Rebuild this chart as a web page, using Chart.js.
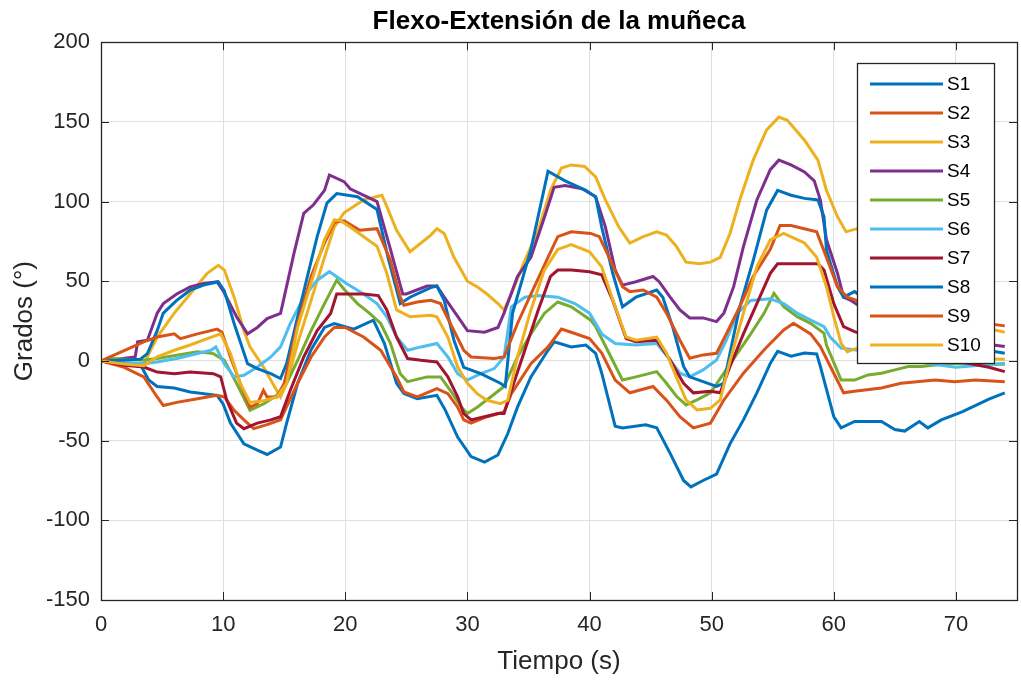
<!DOCTYPE html>
<html>
<head>
<meta charset="utf-8">
<script src="https://cdn.jsdelivr.net/npm/chart.js@4/dist/chart.umd.min.js"></script>
<style>
  body { margin: 0; background: #fff; }
  #wrap { width: 1021px; height: 687px; }
</style>
</head>
<body>
<div id="wrap"><canvas id="wrist"></canvas></div>
<script>

// sampled angle curves, time (s) and angle (deg) per subject
const tS1 = [0, 3.2, 3.9, 4.6, 6, 7.3, 9.5, 10, 10.6, 11.7, 12.8, 13.6, 14.7, 15.2, 16.1, 17.2, 18.3, 19.1, 20.7, 22.3, 23.2, 24.2, 24.8, 25.9, 27.5, 28.2, 29.2, 30.3, 31.4, 32.5, 33.3, 34.1, 35.2, 36.6, 37.1, 38.5, 39.7, 40.5, 41, 42.1, 42.7, 44.6, 45.5, 46.6, 47.7, 48.3, 49.3, 50.4, 51.5, 52.6, 53.7, 54.8, 55.4, 56.5, 57.6, 58.6, 58.9, 60, 60.6, 61.7, 63.9, 65, 65.8, 66.6, 67, 67.7, 68.8, 70.5, 72.7, 74];
const vS1 = [0, -2, -12, -16, -17, -19.5, -21.6, -27, -39, -52, -56, -58.7, -54, -39, -14, 7, 21, 23.5, 20, 25.6, 11, -14, -20.5, -23.7, -21.6, -31, -47.8, -60, -63.5, -59, -45.7, -29, -10, 6.7, 12, 8.8, 10, 4.8, -7.7, -41, -42, -40, -42, -58, -75, -79, -75, -71, -52, -37, -20, -1.5, 6, 3, 5, 4.4, -3.5, -35, -42, -38, -38, -43, -44, -40, -38, -42, -37, -32, -24, -20];

const tS2 = [0, 1.9, 3.5, 4.6, 5.1, 6.2, 7.9, 9.5, 10.1, 10.9, 11.7, 12.5, 13.6, 14.7, 16.1, 17.2, 18.3, 19.1, 20, 21.5, 22.9, 24.2, 24.8, 25.9, 27.5, 28.4, 29.2, 29.7, 30.3, 31.6, 33, 33.6, 35.2, 36.6, 37.7, 38.5, 40, 41, 42.1, 43.3, 45.2, 46.3, 47.4, 48.5, 49.9, 51, 52.6, 54.3, 55.9, 56.7, 58.1, 58.9, 60, 60.8, 61.7, 63.9, 65.5, 68.3, 69.9, 71.6, 74];
const vS2 = [0, -4, -10, -22.6, -28, -26, -23.7, -21.6, -22.6, -31, -37, -42.5, -40, -37, -14, 2.5, 15, 21, 21, 15, 6.7, -10, -19.5, -22.6, -17.4, -20.5, -29, -37, -39, -35, -32, -20.5, -1.7, 8.8, 20, 18, 14, 5, -12, -20, -16, -24.6, -35, -42, -39, -24.5, -7.7, 7, 19.4, 23.6, 17, 9, -7.7, -20, -19, -17, -14, -12, -13, -12, -13];

const tS3 = [0, 3.5, 4.6, 6, 7.3, 8.7, 9.6, 10.1, 10.9, 11.7, 12.2, 13.3, 14.2, 14.7, 15.2, 16.1, 17.2, 18.3, 19.1, 19.9, 21.5, 23, 23.4, 24.2, 25.3, 26.2, 27, 27.5, 28.1, 28.9, 30, 30.8, 31.6, 32.5, 33, 33.6, 34.7, 35.8, 36.8, 37.7, 38.5, 39.6, 40.5, 41.3, 42.4, 43.3, 44.4, 45.5, 46.3, 47.1, 47.9, 49, 49.9, 50.7, 51.5, 52.3, 53.4, 54.5, 55.5, 56.2, 57.6, 58.7, 59.4, 60.3, 61, 61.9, 63, 66, 70, 74];
const vS3 = [0, -2, 15, 30, 42, 55, 60, 57, 40, 19, 8.8, -3.8, -16, -22.6, -14, 11, 38, 65, 84, 93, 101, 104, 97, 82, 68.5, 74, 79, 83, 80, 65, 50, 46.5, 42, 36, 32, 42, 63, 82, 107, 121, 123, 122, 115.5, 101, 84, 74, 78, 81, 79, 72, 62, 61, 62, 65, 80, 101, 126, 145, 153, 151, 138.5, 126, 107, 90.5, 81, 83, 70, 45, 25, 18];

const tS4 = [0, 2.8, 3, 3.8, 4.6, 5.1, 6.2, 7.3, 8.4, 9.5, 10, 11.1, 12, 12.8, 13.6, 14.7, 15, 15.8, 16.6, 17.4, 18.3, 18.7, 19.9, 20.4, 22.6, 23.7, 24.7, 25, 26.7, 27.5, 28.1, 29.2, 30, 31.4, 32.5, 33, 34.1, 35.2, 36.3, 37.1, 38, 39.4, 40.5, 41.3, 42.1, 42.7, 43.8, 45.2, 45.7, 46.6, 47.4, 48.2, 49.3, 50.4, 51, 51.8, 52.6, 53.7, 54.8, 55.5, 56.5, 57.6, 58.4, 58.9, 59.4, 60.3, 60.8, 61.4, 64, 68, 74];
const vS4 = [0, 2.5, 12, 13, 30, 36, 42, 46.5, 48.6, 49.7, 44, 27.7, 17, 21, 26.6, 29.8, 40, 67.5, 92.6, 98, 107, 116.7, 112.5, 108, 100, 70, 42, 42, 47, 47, 40, 28, 19, 18, 21, 30, 53, 65, 90, 109, 110, 108, 103, 84, 57, 47.6, 49.7, 53, 49.7, 40, 32, 27, 27, 24.7, 30, 46.6, 71.7, 101, 120, 126, 123, 118.6, 113, 101, 76, 55, 40, 38, 25, 15, 9];

const tS5 = [0, 0.8, 3.5, 4.6, 6.2, 7.9, 9.2, 10.1, 11.1, 12.2, 13.3, 14.4, 15.2, 16.1, 17.2, 18.3, 19.3, 19.9, 21, 22, 22.9, 23.7, 24.5, 25.1, 26.7, 27.8, 28.6, 29.5, 30, 30.8, 31.9, 33, 34.1, 35.2, 36.3, 37.4, 38.5, 40.1, 40.5, 41.6, 42.7, 43.8, 45.5, 46.3, 47.1, 47.9, 48.8, 49.9, 51, 52.1, 53.2, 54.3, 55.1, 55.9, 57, 58.1, 59.2, 59.4, 60.6, 61.7, 62.8, 63.9, 65, 66.1, 67.2, 68.3, 69.6, 72, 74];
const vS5 = [0, 1.5, 0.4, 1.5, 3.6, 5.7, 4.6, 0.4, -14, -31, -27, -21.6, -14, 0.4, 19, 36, 50.7, 45, 36, 29.8, 23.5, 11, -8, -13, -10, -10, -18.4, -29, -33, -29, -22.6, -16, 2.5, 17, 29.8, 37, 34, 25.6, 21.5, 4.8, -12, -10, -6.7, -14, -22, -27.6, -24.4, -20, -7.7, 4.8, 17, 30, 42.4, 34, 27.8, 23.6, 17.3, 10, -12, -12, -8.8, -7.7, -5.6, -3.5, -3.5, -2.5, -1.5, -2, -2];

const tS6 = [0, 3.5, 4.6, 6.2, 7.3, 9, 9.4, 10.1, 10.9, 11.7, 12.8, 13.9, 14.7, 15.5, 16.6, 17.7, 18.7, 19.3, 20.1, 21.5, 22.6, 23.4, 24.2, 25.1, 26.2, 27.5, 28.4, 29.2, 30, 31.1, 32.2, 33, 33.6, 34.7, 35.8, 37.4, 38.8, 40, 41, 42.1, 43.8, 45.5, 46.6, 47.4, 48.2, 49.3, 50.4, 51.2, 52.1, 53.2, 54.8, 55.9, 57, 58.1, 59.2, 59.7, 60.6, 61.7, 65, 68, 70, 74];
const vS6 = [0, -1.7, -0.6, 1.5, 3.6, 6.7, 8.8, -1.7, -10, -9, -3.8, 2.5, 8.8, 23.5, 40, 50.7, 56, 52.8, 48.6, 42, 36, 27.7, 15, 6.7, 8.8, 11, 2.5, -8, -12, -8, -4.8, 2.5, 34, 40, 41, 40, 36, 30, 17, 11, 10, 11, 0.6, -7.7, -10, -5.6, 0.6, 13, 30, 38, 39, 36, 30, 25.7, 21.5, 15, 8, 7, 3, -2, -4, -1.5];

const tS7 = [0, 1.9, 3.5, 4.6, 6, 7.3, 9.2, 9.8, 10.3, 11.1, 11.7, 12.8, 13.9, 14.7, 15.5, 16.6, 17.7, 18.8, 19.3, 20.4, 21.5, 22.7, 23.4, 24.2, 25.1, 26.2, 27.5, 28.4, 29.2, 29.7, 30.3, 31.4, 32.5, 33, 33.6, 34.7, 35.8, 36.8, 37.4, 38.5, 40, 41, 41.9, 43, 43.8, 45.5, 46.6, 47.7, 48.5, 49.9, 50.7, 51.5, 52.6, 53.7, 54.8, 55.4, 56.5, 57.6, 58.7, 59.2, 60, 60.8, 61.7, 66, 70, 72.7, 74];
const vS7 = [0, -2.7, -3.8, -7, -8, -7, -8, -10, -24.7, -39, -42.5, -39, -37, -35, -18.4, 2.5, 19, 29.8, 42, 42, 42, 41, 32, 15, 1.5, 0.4, -0.6, -10, -22.6, -33, -37, -35, -33, -33, -18.4, 6.7, 32, 53, 57, 57, 56, 54, 38, 14, 12, 13, 0.6, -14, -20, -19, -20, -3.5, 17, 36, 55, 61, 61, 61, 61, 57, 36, 21.5, 18.4, 8, 0, -4, -6.7];

const tS8 = [0, 3.2, 3.8, 4.6, 5.1, 6.2, 7.3, 8.4, 9.6, 10.1, 10.9, 12, 12.8, 13.9, 14.7, 15.2, 16.1, 16.9, 17.7, 18.5, 19.3, 21, 22.6, 23.5, 24.5, 25.3, 27, 27.5, 28.1, 28.9, 29.7, 31.1, 32.7, 33.1, 33.7, 35.2, 36.2, 36.6, 38, 39.7, 40.5, 41, 41.9, 42.7, 43.8, 45.5, 46, 46.8, 47.7, 48.2, 49.3, 50.4, 51, 51.5, 52.3, 53.4, 54.5, 55.4, 56.5, 57.6, 58.7, 59.2, 59.4, 60.3, 60.8, 61.7, 65, 70, 74];
const vS8 = [0, 1, 4.6, 19, 30, 38, 44.4, 47.6, 49.7, 44, 23.5, -1.7, -4.8, -8, -11, -1.7, 27.7, 53, 78, 99, 105, 103, 95, 65, 36, 40, 46, 47, 38, 13, -4, -8, -14, -16, 30, 70, 105, 119, 113, 107, 103, 84, 55, 34, 40, 44.5, 40, 21.5, -3.5, -10, -13, -16, -14, 4.8, 34, 63, 94.6, 107, 104, 102, 101, 90.5, 69.6, 46.6, 40, 43.5, 25, 10, 4.8];

const tS9 = [0, 3.5, 4.6, 6, 6.5, 7.9, 9.5, 9.9, 10.6, 11.4, 12.2, 12.8, 13.3, 13.6, 14.4, 15, 16.1, 17.2, 18.3, 19.1, 19.9, 21.2, 22.6, 23.7, 24.5, 24.8, 25.9, 27, 27.8, 28.6, 29.7, 30.3, 32.2, 33, 34.1, 35.2, 36.6, 37.4, 38.5, 40.1, 40.8, 41.6, 42.7, 43.3, 44.4, 45.5, 46.3, 47.4, 48.2, 49.3, 50.4, 51.2, 52.3, 53.4, 54.8, 55.6, 56.5, 58.6, 59.4, 60.3, 61.1, 63, 66, 70, 74];
const vS9 = [0, 12, 15, 17, 14, 17, 20, 18, 2.5, -14, -29, -27, -18.4, -22.6, -22.6, -14, 23.5, 53, 74, 87, 88, 82, 83, 63, 40, 35, 37, 38, 36, 23.5, 6.7, 2.5, 1.5, 2.5, 23.5, 42, 65, 78, 81, 80, 78, 65, 46.6, 43.5, 44.5, 40, 30, 13, 1.7, 3.8, 4.8, 17, 34, 53, 70, 85, 85, 81, 65, 46.6, 40, 35, 30, 26, 22];

const tS10 = [0, 1.9, 3.5, 4.6, 6, 7.3, 8.7, 9.8, 10.6, 11.4, 12.2, 13.3, 14.4, 15.2, 16.1, 17.2, 18.3, 19.1, 19.6, 20.4, 22.6, 23.4, 24.2, 25.3, 27, 27.5, 28.4, 29.2, 30, 30.8, 31.6, 32.7, 33.3, 34.1, 35.2, 36.3, 37.4, 38.5, 40, 41, 42.1, 43, 43.8, 45.5, 46.3, 47.1, 47.9, 48.8, 49.9, 50.7, 51.5, 52.6, 53.7, 54.8, 55.9, 57.6, 58.6, 59.4, 60, 60.6, 61.1, 61.9, 66, 70, 74];
const vS10 = [0, -2, -3, 2.5, 6.7, 10, 14, 17, 4.6, -14, -26, -25, -22.6, -14, 21, 49, 76, 88.5, 88, 84, 72, 55, 32, 27.7, 28.7, 27.7, 15, -3.8, -14, -20.5, -24.7, -26.8, -24.7, 2.5, 32, 57, 70, 73, 68.5, 59, 34, 15, 13, 15, 4.8, -10, -24.4, -30.7, -29.7, -24.4, 0, 30, 59, 76, 80, 74, 65, 46.6, 27.8, 11, 5.8, 8, 5, 2, 1];

const names = ["S1", "S2", "S3", "S4", "S5", "S6", "S7", "S8", "S9", "S10"];
const times = [tS1, tS2, tS3, tS4, tS5, tS6, tS7, tS8, tS9, tS10];
const angles = [vS1, vS2, vS3, vS4, vS5, vS6, vS7, vS8, vS9, vS10];
const xTicks = [0, 10, 20, 30, 40, 50, 60, 70];
const yTicks = [-150, -100, -50, 0, 50, 100, 150, 200];

// matlab default line colour order
const palette = ["#0072BD", "#D95319", "#EDB120", "#7E2F8E", "#77AC30", "#4DBEEE", "#A2142F"];
const axisGray = "#262626";
const fontFam = "'Liberation Sans', Arial, sans-serif";

const datasets = names.map((name, i) => ({
    label: name,
    data: times[i].map((t, k) => ({x: t, y: angles[i][k]})),
    borderColor: palette[i % palette.length],
    borderWidth: 3,
    pointRadius: 0,
    tension: 0,
    fill: false,
    order: names.length - i
}));

// box around the axes with inward tick marks on all four sides
const axesBox = {
    id: "axesBox",
    afterDatasetsDraw(chart){
        const {ctx, chartArea: a, scales} = chart;
        ctx.save();
        ctx.strokeStyle = axisGray;
        ctx.lineWidth = 1;
        ctx.beginPath();
        xTicks.forEach(v => {
            const px = Math.round(scales.x.getPixelForValue(v)) + 0.5;
            ctx.moveTo(px, a.bottom); ctx.lineTo(px, a.bottom - 8);
            ctx.moveTo(px, a.top); ctx.lineTo(px, a.top + 8);
        });
        yTicks.forEach(v => {
            const py = Math.round(scales.y.getPixelForValue(v)) + 0.5;
            ctx.moveTo(a.left, py); ctx.lineTo(a.left + 8, py);
            ctx.moveTo(a.right, py); ctx.lineTo(a.right - 8, py);
        });
        ctx.stroke();
        ctx.lineWidth = 1.3;
        ctx.strokeRect(Math.round(a.left) + 0.5, Math.round(a.top) + 0.5,
            Math.round(a.right - a.left), Math.round(a.bottom - a.top));
        ctx.restore();
    }
};

// legend drawn inside the plot, top right
const insideLegend = {
    id: "insideLegend",
    afterDatasetsDraw(chart){
        const {ctx} = chart;
        const box = {x: 857.5, y: 63.5, w: 137, h: 300};
        ctx.save();
        ctx.fillStyle = "#fff";
        ctx.fillRect(box.x, box.y, box.w, box.h);
        ctx.strokeStyle = axisGray;
        ctx.lineWidth = 1.3;
        ctx.strokeRect(box.x, box.y, box.w, box.h);
        ctx.font = "19px " + fontFam;
        ctx.textBaseline = "middle";
        ctx.fillStyle = "#000";
        chart.data.datasets.forEach((ds, i) => {
            const y = 84 + i * 29;
            ctx.strokeStyle = ds.borderColor;
            ctx.lineWidth = 3;
            ctx.beginPath();
            ctx.moveTo(870, y);
            ctx.lineTo(943, y);
            ctx.stroke();
            ctx.fillText(ds.label, 947, y + 1);
        });
        ctx.restore();
    }
};

new Chart(
    document.getElementById("wrist"),
    {
        type: "line",
        data: { datasets: datasets },
        options: {
            responsive: true,
            maintainAspectRatio: false,
            animation: false,
            events: [],
            layout: { padding: { left: 0, right: 4, top: 0, bottom: 0 } },
            plugins: {
                legend: { display: false },
                tooltip: { enabled: false },
                title: {
                    display: true,
                    fullSize: false,
                    text: "Flexo-Extensión de la muñeca",
                    color: "#000",
                    font: { family: fontFam, size: 26, weight: "bold" },
                    padding: { top: 6, bottom: 5 }
                }
            },
            scales: {
                x: {
                    type: "linear",
                    min: 0,
                    max: 75,
                    afterFit(s){ s.height = 87; },
                    afterBuildTicks(s){ s.ticks = xTicks.map(v => ({value: v})); },
                    grid: { color: "#dfdfdf", lineWidth: 1, drawTicks: false },
                    border: { display: false },
                    ticks: {
                        color: axisGray,
                        padding: 12,
                        font: { family: fontFam, size: 22 }
                    },
                    title: {
                        display: true,
                        text: "Tiempo (s)",
                        color: axisGray,
                        font: { family: fontFam, size: 26 },
                        padding: { bottom: 10 }
                    }
                },
                y: {
                    type: "linear",
                    min: -150,
                    max: 200,
                    afterFit(s){ s.width = 101; },
                    afterBuildTicks(s){ s.ticks = yTicks.map(v => ({value: v})); },
                    grid: { color: "#dfdfdf", lineWidth: 1, drawTicks: false },
                    border: { display: false },
                    ticks: {
                        color: axisGray,
                        padding: 11,
                        font: { family: fontFam, size: 22 }
                    },
                    title: {
                        display: true,
                        text: "Grados (°)",
                        color: axisGray,
                        font: { family: fontFam, size: 26 },
                        padding: { top: 9 }
                    }
                }
            }
        },
        plugins: [axesBox, insideLegend]
    }
);

</script>
</body>
</html>
